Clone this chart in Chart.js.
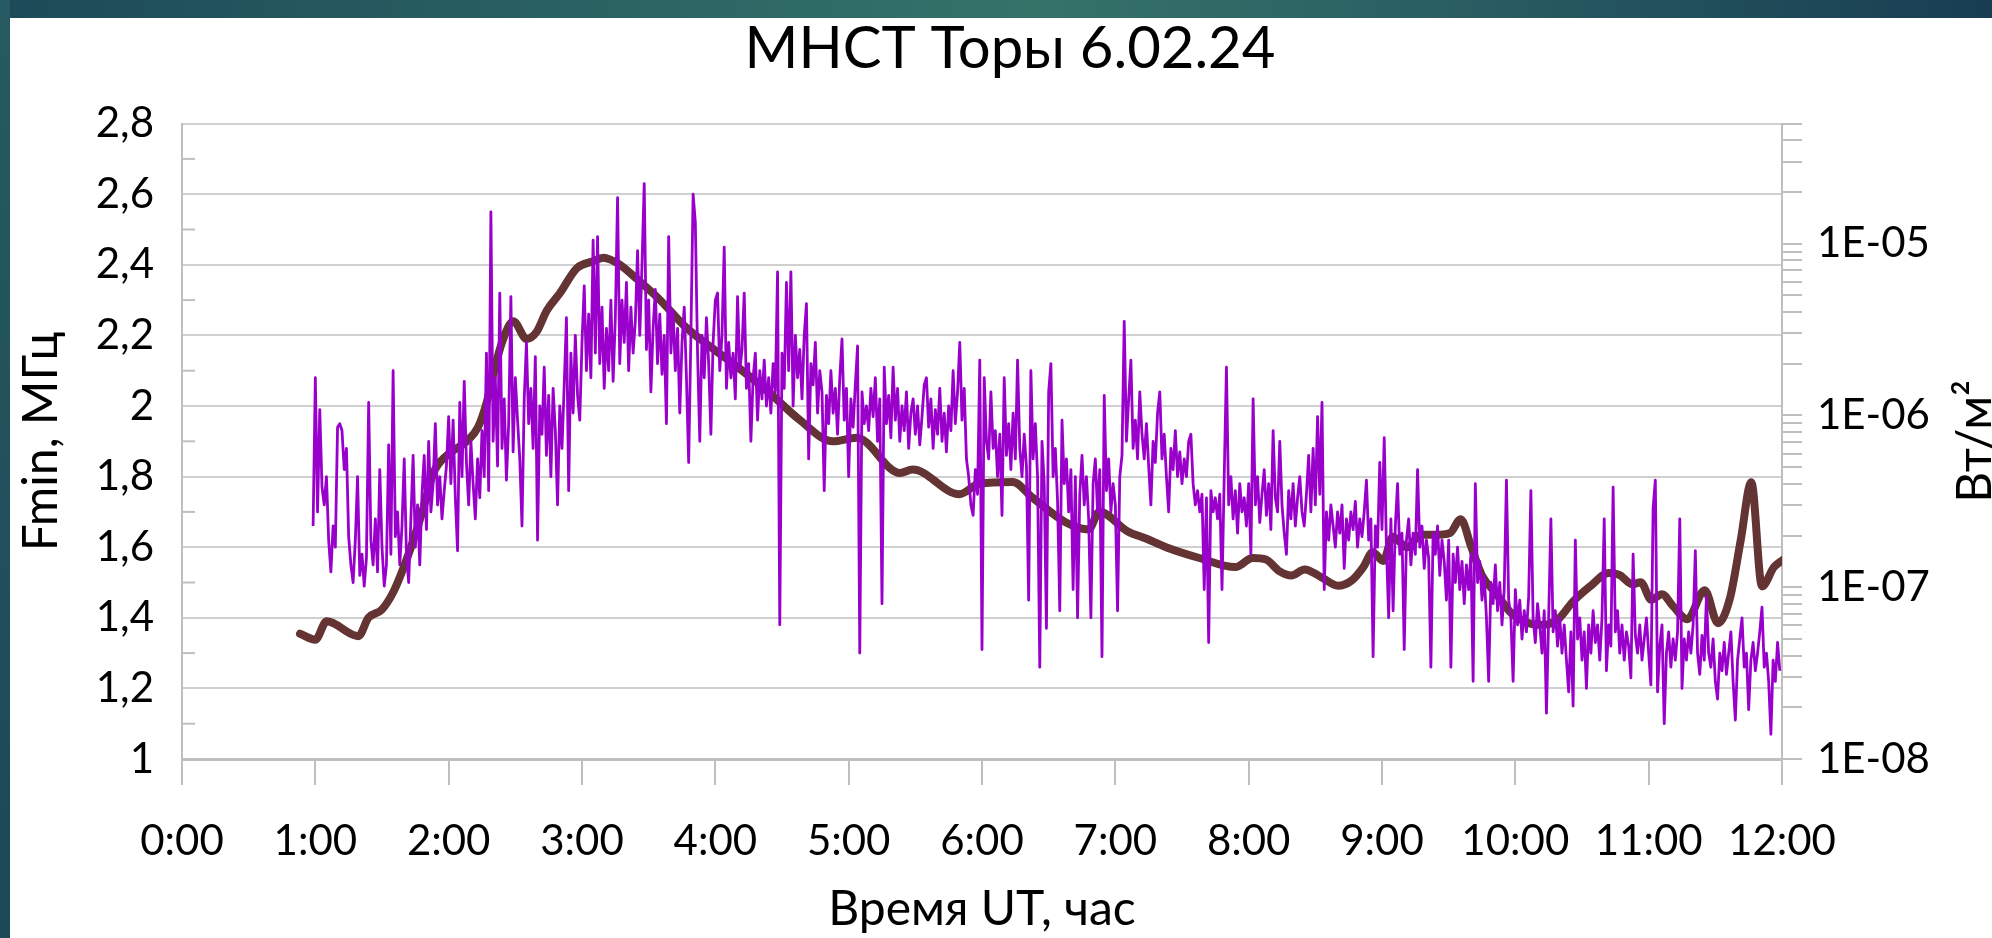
<!DOCTYPE html>
<html lang="ru">
<head>
<meta charset="UTF-8">
<title>МНСТ Торы 6.02.24</title>
<script src="https://cdn.jsdelivr.net/npm/chart.js@4"></script>
<style>
  html, body { margin: 0; padding: 0; width: 1992px; height: 938px; overflow: hidden; }
  body {
    position: relative;
    background: linear-gradient(90deg, #1d4a58 0%, #2e6966 38%, #357369 52%, #2a5f63 72%, #183d52 100%);
  }
  .strip { position: absolute; left: 0; top: 0; width: 10px; height: 938px; background: linear-gradient(180deg, #275a62, #1b4956); }
  .panel { position: absolute; left: 10px; top: 18px; right: 0; bottom: 0; background: #ffffff; }
  #chart { position: absolute; left: 10px; top: 0; }
</style>
</head>
<body>
<div class="strip"></div>
<div class="panel"></div>
<canvas id="chart" width="1982" height="938"></canvas>

<script>
// axis tick labels
const timeLabels = ['0:00', '1:00', '2:00', '3:00', '4:00', '5:00', '6:00', '7:00', '8:00', '9:00', '10:00', '11:00', '12:00'];
const fminTicks = [1, 1.2, 1.4, 1.6, 1.8, 2, 2.2, 2.4, 2.6, 2.8];
const fluxTickLabels = ['1E-08', '1E-07', '1E-06', '1E-05'];
const fluxMin = 1e-8;
const fluxMax = 5e-5;

// Fmin, MHz - one sample per minute, first one at 0:59 UT
const fminStartMin = 59;
const fminValues = [
  1.66,
  2.08, 1.70, 1.99, 1.77, 1.72, 1.80, 1.62, 1.53, 1.66, 1.60,
  1.94, 1.95, 1.93, 1.82, 1.88, 1.63, 1.55, 1.50, 1.62, 1.80,
  1.52, 1.58, 1.49, 1.57, 2.01, 1.62, 1.55, 1.68, 1.53, 1.82,
  1.60, 1.49, 1.55, 1.89, 1.58, 2.10, 1.63, 1.70, 1.55, 1.66,
  1.85, 1.58, 1.50, 1.68, 1.86, 1.60, 1.72, 1.55, 1.75, 1.86,
  1.65, 1.90, 1.70, 1.78, 1.95, 1.72, 1.80, 1.68, 1.76, 1.83,
  // 2:00
  1.97, 1.78, 1.96, 1.74, 1.59, 2.01, 1.80, 2.07, 1.84, 1.72,
  1.90, 1.78, 1.68, 1.85, 1.74, 1.93, 1.80, 2.15, 1.76, 2.55,
  1.90, 2.08, 1.83, 2.32, 1.88, 2.02, 1.79, 1.95, 2.31, 1.87,
  2.08, 1.96, 1.85, 1.66, 2.02, 2.18, 1.95, 2.05, 1.88, 2.14,
  1.62, 2.00, 1.92, 2.11, 1.86, 2.03, 1.80, 2.05, 1.93, 1.72,
  2.00, 1.88, 2.06, 2.25, 1.76, 2.15, 1.98, 2.20, 2.03, 1.96,
  // 3:00
  2.18, 2.34, 2.10, 2.26, 2.08, 2.47, 2.15, 2.48, 2.12, 2.28,
  2.05, 2.22, 2.10, 2.30, 2.07, 2.25, 2.59, 2.12, 2.30, 2.18,
  2.35, 2.10, 2.28, 2.15, 2.24, 2.44, 2.20, 2.40, 2.63, 2.16,
  2.30, 2.04, 2.22, 2.33, 2.12, 2.26, 2.09, 2.20, 1.95, 2.48,
  2.15, 2.27, 2.10, 2.22, 1.98, 2.18, 2.28, 2.08, 1.84, 2.20,
  2.60, 2.52, 2.15, 1.90, 2.20, 2.08, 2.25, 2.12, 1.92, 2.18,
  // 4:00
  2.30, 2.32, 2.10, 2.20, 2.45, 2.05, 2.18, 2.08, 2.15, 2.02,
  2.31, 2.10, 2.16, 2.32, 2.05, 2.12, 1.90, 2.08, 2.15, 1.96,
  2.10, 2.02, 2.13, 2.00, 2.08, 1.98, 2.12, 2.04, 2.38, 1.38,
  2.15, 2.05, 2.35, 2.10, 2.38, 2.00, 2.20, 2.08, 2.16, 2.02,
  2.20, 2.29, 1.85, 2.12, 2.06, 2.18, 1.98, 2.10, 2.04, 1.76,
  2.03, 1.95, 2.10, 1.98, 2.05, 1.92, 2.08, 2.19, 1.96, 2.05,
  // 5:00
  1.80, 2.02, 1.94, 2.06, 2.17, 1.30, 2.04, 1.95, 2.00, 1.93,
  2.05, 1.97, 2.08, 1.90, 2.02, 1.44, 2.11, 1.95, 2.03, 1.91,
  2.11, 1.96, 2.05, 1.90, 2.00, 1.93, 2.04, 1.88, 1.98, 2.02,
  1.92, 2.00, 1.89, 1.97, 2.06, 2.08, 1.94, 2.02, 1.88, 1.99,
  1.92, 2.05, 1.90, 1.98, 1.87, 2.00, 1.93, 2.10, 1.95, 2.04,
  2.18, 1.96, 2.05, 1.85, 1.80, 1.72, 1.69, 1.82, 1.75, 2.13,
  // 6:00
  1.31, 2.08, 1.90, 1.85, 2.04, 1.88, 1.93, 1.80, 1.92, 1.69,
  2.08, 1.86, 1.95, 1.82, 1.98, 1.85, 2.13, 1.88, 1.80, 1.92,
  1.83, 1.45, 2.10, 1.85, 1.95, 1.80, 1.26, 1.90, 1.78, 1.37,
  2.04, 2.12, 1.80, 1.88, 1.73, 1.42, 1.96, 1.78, 1.85, 1.70,
  1.82, 1.48, 1.80, 1.40, 1.75, 1.86, 1.72, 1.80, 1.68, 1.40,
  1.78, 1.85, 1.70, 1.82, 1.29, 2.03, 1.76, 1.85, 1.70, 1.78,
  // 7:00
  1.72, 1.42, 1.80, 1.86, 2.24, 1.90, 2.02, 2.13, 1.88, 1.96,
  1.85, 2.04, 1.92, 1.85, 1.95, 1.83, 1.72, 1.90, 1.84, 1.98,
  2.04, 1.85, 1.92, 1.80, 1.70, 1.88, 1.82, 1.93, 1.80, 1.87,
  1.78, 1.85, 1.80, 1.90, 1.92, 1.78, 1.72, 1.76, 1.70, 1.75,
  1.48, 1.74, 1.33, 1.76, 1.70, 1.74, 1.68, 1.75, 1.48, 1.80,
  2.11, 1.72, 1.80, 1.68, 1.76, 1.64, 1.78, 1.70, 1.74, 1.66,
  // 8:00
  1.78, 1.58, 2.02, 1.72, 1.80, 1.67, 1.75, 1.82, 1.69, 1.78,
  1.65, 1.93, 1.74, 1.70, 1.90, 1.72, 1.64, 1.58, 1.76, 1.68,
  1.78, 1.66, 1.74, 1.80, 1.70, 1.66, 1.75, 1.86, 1.70, 1.88,
  1.72, 1.97, 1.75, 2.01, 1.48, 1.70, 1.62, 1.72, 1.66, 1.60,
  1.70, 1.64, 1.72, 1.54, 1.68, 1.62, 1.70, 1.65, 1.73, 1.60,
  1.68, 1.63, 1.70, 1.79, 1.62, 1.68, 1.29, 1.66, 1.60, 1.84,
  // 9:00
  1.65, 1.91, 1.60, 1.40, 1.68, 1.42, 1.66, 1.78, 1.58, 1.64,
  1.31, 1.62, 1.68, 1.55, 1.64, 1.58, 1.82, 1.60, 1.66, 1.54,
  1.62, 1.57, 1.26, 1.64, 1.58, 1.66, 1.52, 1.62, 1.56, 1.45,
  1.62, 1.26, 1.58, 1.50, 1.60, 1.48, 1.56, 1.44, 1.55, 1.48,
  1.58, 1.22, 1.78, 1.50, 1.56, 1.45, 1.52, 1.40, 1.22, 1.50,
  1.44, 1.55, 1.42, 1.50, 1.38, 1.48, 1.79, 1.45, 1.40, 1.22,
  // 10:00
  1.48, 1.38, 1.45, 1.34, 1.42, 1.36, 1.46, 1.76, 1.40, 1.33,
  1.44, 1.38, 1.30, 1.42, 1.13, 1.40, 1.68, 1.36, 1.42, 1.32,
  1.40, 1.30, 1.38, 1.28, 1.19, 1.36, 1.15, 1.62, 1.34, 1.40,
  1.28, 1.36, 1.20, 1.38, 1.30, 1.42, 1.33, 1.38, 1.28, 1.40,
  1.68, 1.25, 1.38, 1.32, 1.77, 1.36, 1.42, 1.30, 1.38, 1.28,
  1.36, 1.32, 1.23, 1.58, 1.35, 1.30, 1.38, 1.28, 1.34, 1.40,
  // 11:00
  1.30, 1.21, 1.71, 1.79, 1.19, 1.32, 1.38, 1.10, 1.30, 1.36,
  1.26, 1.34, 1.28, 1.36, 1.68, 1.20, 1.34, 1.28, 1.36, 1.30,
  1.38, 1.59, 1.30, 1.24, 1.35, 1.28, 1.46, 1.30, 1.26, 1.34,
  1.22, 1.17, 1.30, 1.25, 1.33, 1.24, 1.30, 1.36, 1.22, 1.11,
  1.28, 1.34, 1.40, 1.26, 1.30, 1.14, 1.28, 1.33, 1.25, 1.30,
  1.36, 1.43, 1.26, 1.30, 1.22, 1.07, 1.28, 1.22, 1.33, 1.25
];

// X-ray flux, W/m2 (right log axis), time in hours UT
const xrayHours = [
  0.885, 1.0, 1.085, 1.323, 1.398, 1.498, 1.585, 1.66, 1.735, 1.81,
  1.885, 1.985, 2.135, 2.22, 2.285, 2.335, 2.40, 2.485, 2.585, 2.66,
  2.735, 2.835, 2.96, 3.085, 3.16, 3.285, 3.41, 3.585, 3.76, 3.885,
  4.135, 4.385, 4.635, 4.88, 5.06, 5.385, 5.48, 5.83, 5.98, 6.23,
  6.38, 6.63, 6.80, 6.88, 7.09, 7.23, 7.38, 7.63, 7.90, 8.03,
  8.13, 8.23, 8.32, 8.42, 8.54, 8.67, 8.77, 8.86, 8.93, 9.01,
  9.08, 9.19, 9.29, 9.40, 9.51, 9.59, 9.67, 9.75, 9.86, 9.97,
  10.10, 10.21, 10.32, 10.43, 10.56, 10.70, 10.78, 10.88, 10.94, 11.02,
  11.10, 11.18, 11.29, 11.42, 11.52, 11.61, 11.69, 11.77, 11.85, 11.94,
  12.01
];
const xrayFlux = [
  5.36e-8, 4.95e-8, 6.33e-8, 5.19e-8, 6.64e-8, 7.40e-8, 9.38e-8, 1.29e-7, 1.88e-7, 2.88e-7,
  4.62e-7, 5.85e-7, 7.07e-7, 8.54e-7, 1.19e-6, 1.74e-6, 2.66e-6, 3.53e-6, 2.79e-6, 3.07e-6,
  4.07e-6, 5.16e-6, 7.19e-6, 7.90e-6, 8.28e-6, 7.53e-6, 6.24e-6, 4.70e-6, 3.37e-6, 2.79e-6,
  2.00e-6, 1.40e-6, 9.39e-7, 7.07e-7, 7.41e-7, 4.62e-7, 4.84e-7, 3.48e-7, 4.01e-7, 4.10e-7,
  3.32e-7, 2.38e-7, 2.17e-7, 2.75e-7, 2.12e-7, 1.92e-7, 1.71e-7, 1.48e-7, 1.31e-7, 1.48e-7,
  1.45e-7, 1.24e-7, 1.17e-7, 1.27e-7, 1.15e-7, 1.02e-7, 1.09e-7, 1.31e-7, 1.60e-7, 1.42e-7,
  1.97e-7, 1.71e-7, 2.02e-7, 2.02e-7, 2.07e-7, 2.49e-7, 1.71e-7, 1.17e-7, 9.11e-8, 7.06e-8,
  6.18e-8, 6.04e-8, 6.51e-8, 8.21e-8, 1.01e-7, 1.21e-7, 1.18e-7, 1.04e-7, 1.07e-7, 8.45e-8,
  9.11e-8, 7.80e-8, 6.51e-8, 9.60e-8, 6.18e-8, 8.65e-8, 1.87e-7, 4.08e-7, 1.01e-7, 1.31e-7,
  1.45e-7
];

const fminPoints = fminValues.map((v, i) => ({ x: (fminStartMin + i) / 60, y: v }));
const xrayPoints = xrayHours.map((h, i) => ({ x: h, y: xrayFlux[i] }));

// 1..9 x 10^n ticks for the log axis (Excel style minor ticks)
function logTicks(min, max) {
  const out = [];
  for (let e = Math.floor(Math.log10(min)); Math.pow(10, e) <= max; e++) {
    for (let m = 1; m <= 9; m++) {
      const v = m * Math.pow(10, e);
      if (v >= min * 0.999 && v <= max * 1.001) out.push(v);
    }
  }
  return out;
}

const axisGray = '#bfbfbf';
const gridGray = '#d0d0d0';
const fontFamily = 'Lato, "Open Sans", sans-serif';

Chart.defaults.font.family = fontFamily;
Chart.defaults.color = '#000000';

// small inward minor ticks on the left axis, between the labelled values
const minorTicks = {
  id: 'minorTicks',
  beforeDatasetsDraw(chart) {
    const s = chart.scales.yL;
    const left = chart.chartArea.left;
    const ctx = chart.ctx;
    ctx.save();
    ctx.strokeStyle = axisGray;
    ctx.lineWidth = 2;
    for (let i = 0; i < s.ticks.length - 1; i++) {
      const y = s.getPixelForValue((s.ticks[i].value + s.ticks[i + 1].value) / 2);
      ctx.beginPath();
      ctx.moveTo(left, y);
      ctx.lineTo(left + 13, y);
      ctx.stroke();
    }
    ctx.restore();
  }
};

// right axis title reads bottom-to-top like the left one
const rightTitle = {
  id: 'rightTitle',
  afterDraw(chart) {
    const s = chart.scales.yR;
    const ctx = chart.ctx;
    ctx.save();
    ctx.translate(s.right - 16, (chart.chartArea.top + chart.chartArea.bottom) / 2);
    ctx.rotate(-Math.PI / 2);
    ctx.font = '48px ' + fontFamily;
    ctx.fillStyle = '#000000';
    ctx.textAlign = 'center';
    ctx.textBaseline = 'middle';
    ctx.fillText('Вт/м²', 0, 0);
    ctx.restore();
  }
};

new Chart(document.getElementById('chart'), {
  type: 'line',
  data: {
    datasets: [
      {
        label: 'Fmin',
        data: fminPoints,
        xAxisID: 'x',
        yAxisID: 'yL',
        borderColor: '#9900cc',
        borderWidth: 2.8,
        borderJoinStyle: 'round',
        pointRadius: 0,
        tension: 0
      },
      {
        label: 'X-ray',
        data: xrayPoints,
        xAxisID: 'x',
        yAxisID: 'yR',
        borderColor: '#643333',
        borderWidth: 8,
        borderJoinStyle: 'round',
        borderCapStyle: 'round',
        pointRadius: 0,
        cubicInterpolationMode: 'monotone'
      }
    ]
  },
  options: {
    responsive: false,
    animation: false,
    devicePixelRatio: 1,
    layout: { padding: { left: 18, right: 0, top: 0, bottom: 0 } },
    plugins: {
      legend: { display: false },
      tooltip: { enabled: false },
      title: {
        display: true,
        text: 'МНСТ Торы 6.02.24',
        color: '#000000',
        font: { size: 58, weight: 'normal', lineHeight: 1.2 },
        padding: { top: 14, bottom: 40 }
      }
    },
    scales: {
      x: {
        type: 'linear',
        position: 'bottom',
        min: 0,
        max: 12,
        afterBuildTicks: s => { s.ticks = timeLabels.map((_, i) => ({ value: i })); },
        afterFit: s => { s.height = 179; },
        ticks: {
          autoSkip: false,
          maxRotation: 0,
          padding: 31,
          font: { size: 42 },
          callback: v => timeLabels[v]
        },
        grid: { drawOnChartArea: false, drawTicks: true, tickLength: 26, tickColor: axisGray, lineWidth: 2 },
        border: { color: axisGray, width: 3 },
        title: {
          display: true,
          text: 'Время UT, час',
          font: { size: 48, lineHeight: 1 },
          padding: { top: 0, bottom: 4 }
        }
      },
      yL: {
        type: 'linear',
        position: 'left',
        min: 1,
        max: 2.8,
        afterBuildTicks: s => { s.ticks = fminTicks.map(v => ({ value: v })); },
        afterFit: s => { s.width = 154; },
        ticks: {
          autoSkip: false,
          padding: 28,
          font: { size: 42 },
          callback: v => String(v).replace('.', ',')
        },
        grid: { color: gridGray, lineWidth: 2, drawTicks: false },
        border: { color: axisGray, width: 2 },
        title: {
          display: true,
          text: 'Fmin, МГц',
          font: { size: 48, lineHeight: 0.57 },
          padding: { top: 0, bottom: 0 }
        }
      },
      yR: {
        type: 'logarithmic',
        position: 'right',
        min: fluxMin,
        max: fluxMax,
        afterBuildTicks: s => { s.ticks = logTicks(fluxMin, fluxMax).map(v => ({ value: v })); },
        afterFit: s => { s.width = 210; },
        ticks: {
          autoSkip: false,
          padding: 15,
          font: { size: 42 },
          callback: v => {
            const e = Math.round(Math.log10(v));
            const isDecade = Math.abs(v / Math.pow(10, e) - 1) < 1e-6;
            return isDecade ? fluxTickLabels[e - Math.log10(fluxMin)] : '';
          }
        },
        grid: { drawOnChartArea: false, drawTicks: true, tickLength: 20, tickColor: axisGray, lineWidth: 2 },
        border: { color: axisGray, width: 2 }
      }
    }
  },
  plugins: [minorTicks, rightTitle]
});
</script>
</body>
</html>
